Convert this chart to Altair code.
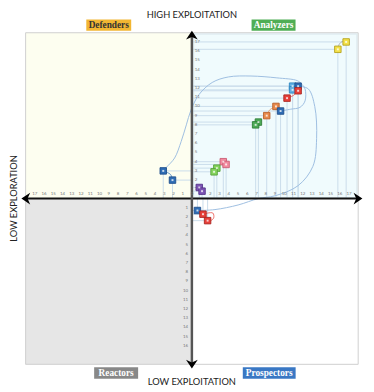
import altair as alt
import pandas as pd

# ---------------- data ----------------
# points: x = exploration, y = exploitation
pt_x = [16.7, 15.8, 10.9, 10.9, 11.5, 11.5, 10.3, 9.1, 9.6, 8.1, 7.2, 6.9,
        -3.1, -2.1, 3.4, 3.7, 2.7, 2.4, 0.8, 1.1, 0.6, 1.2, 1.7]
pt_y = [17.0, 16.2, 12.2, 11.8, 12.2, 11.7, 10.9, 10.0, 9.5, 9.0, 8.3, 8.0,
        3.0, 2.0, 4.0, 3.7, 3.3, 2.9, 1.2, 0.8, -1.3, -1.7, -2.4]
pt_group = ["yellow", "yellow", "lightblue", "lightblue", "blue", "red", "red",
            "orange", "blue", "orange", "green", "green",
            "blue", "blue", "pink", "pink", "lime", "lime", "purple", "purple",
            "blue", "red", "red"]

groups = ["yellow", "lightblue", "blue", "red", "orange", "green", "pink", "lime", "purple", "gray"]
fill_colors = ["#F3E14A", "#62B0E4", "#2F6DB5", "#E8403A", "#E8894B", "#4DAA57", "#F28BA0", "#86D45E", "#7D55B5", "#999999"]
stroke_colors = ["#B5A21C", "#2E86C1", "#1F4E8C", "#A92420", "#B8602A", "#2E7D36", "#C95C73", "#55A03A", "#54348A", "#777777"]

# large trajectory curves
curveA_x = [-3.1, -2.75, -1.87, -1.16, -0.6, -0.1, 0.78, 2.2, 3.95, 6.4, 9.2, 11.4, 11.9, 12.25, 12.25, 11.7, 10.7, 9.6]
curveA_y = [3.0, 3.4, 4.4, 6.2, 8.0, 9.6, 11.3, 12.6, 13.2, 13.3, 13.1, 12.8, 12.4, 11.9, 10.6, 9.9, 9.7, 9.5]
curveB_x = [11.5, 12.6, 13.3, 13.5, 13.1, 11.5, 9.0, 7.2, 5.0, 2.5, 0.6]
curveB_y = [12.2, 11.9, 10.0, 6.5, 3.5, 1.4, 0.3, 0.0, -0.7, -1.2, -1.3]

# short connectors between paired points
conn_group = ["gray"] * 4 + ["red"] * 5 + ["orange"] * 3 + ["red"] * 3 + ["blue"] * 3
conn_id = ["c1"] * 4 + ["c2"] * 5 + ["c3"] * 3 + ["c4"] * 3 + ["c5"] * 3
conn_x = [15.8, 15.95, 16.3, 16.7,
          1.2, 2.26, 2.36, 2.0, 1.7,
          8.1, 8.4, 9.1,
          10.3, 11.0, 11.5,
          -3.1, -2.3, -2.1]
conn_y = [16.2, 16.75, 17.05, 17.0,
          -1.7, -1.57, -2.1, -2.42, -2.4,
          9.0, 9.6, 10.0,
          10.9, 11.2, 11.7,
          3.0, 2.6, 2.0]

# quadrants
quad_name = ["Defenders", "Analyzers", "Reactors", "Prospectors"]
quad_x = [-18, 0, -18, 0]
quad_x2 = [0, 18, 0, 18]
quad_y = [0, 0, -18, -18]
quad_y2 = [18, 18, 0, 0]
quad_fill = ["#FDFEF0", "#F0FBFD", "#E6E6E6", "#FFFFFF"]

# quadrant labels
lab_text = ["Defenders", "Analyzers", "Reactors", "Prospectors"]
lab_x = [-9.0, 8.84, -8.2, 8.37]
lab_y = [18.83, 18.83, -18.95, -18.95]
lab_half_w = [2.43, 2.38, 2.38, 2.86]
lab_bg = ["#F2B632", "#4FAE55", "#888888", "#3A78C4"]
lab_fg = ["#333333", "#FFFFFF", "#FFFFFF", "#FFFFFF"]

# tick labels
xt_left = [-17, -16, -15, -14, -13, -12, -11, -10, -9, -8, -7, -6, -5, -4, -3, -2, -1, 0]
xt_left_lab = ["17", "16", "15", "14", "13", "12", "11", "10", "9", "8", "7", "6", "5", "4", "3", "2", "1", "0"]
xt_right = [1, 2, 3, 4, 5, 6, 7, 8, 9, 10, 11, 12, 13, 14, 15, 16, 17]
xt_right_lab = ["1", "2", "3", "4", "5", "6", "7", "8", "9", "10", "11", "12", "13", "14", "15", "16", "17"]
yt_top = [1, 2, 3, 4, 5, 6, 7, 8, 9, 10, 11, 12, 13, 14, 15, 16, 17]
yt_top_lab = ["1", "2", "3", "4", "5", "6", "7", "8", "9", "10", "11", "12", "13", "14", "15", "16", "17"]
yt_bot = [-1, -2, -3, -4, -5, -6, -7, -8, -9, -10, -11, -12, -13, -14, -15, -16]
yt_bot_lab = ["1", "2", "3", "4", "5", "6", "7", "8", "9", "10", "11", "12", "13", "14", "15", "16"]

# ---------------- build ----------------
XS = alt.Scale(domain=[-18, 18], nice=False, zero=False)
YS = alt.Scale(domain=[-18, 18], nice=False, zero=False)


def X(f="x"):
    return alt.X(f"{f}:Q", scale=XS, axis=None)


def Y(f="y"):
    return alt.Y(f"{f}:Q", scale=YS, axis=None)


fill_scale = alt.Scale(domain=groups, range=fill_colors)
stroke_scale = alt.Scale(domain=groups, range=stroke_colors)

pts = pd.DataFrame({"x": pt_x, "y": pt_y, "g": pt_group, "zero": 0.0})
quads = pd.DataFrame({"x": quad_x, "x2": quad_x2, "y": quad_y, "y2": quad_y2, "name": quad_name})
labs = pd.DataFrame({"t": lab_text, "x": lab_x, "y": lab_y,
                     "xa": [a - b for a, b in zip(lab_x, lab_half_w)],
                     "xb": [a + b for a, b in zip(lab_x, lab_half_w)],
                     "ya": [v - 0.62 for v in lab_y], "yb": [v + 0.62 for v in lab_y]})
curves = pd.DataFrame({
    "x": curveA_x + curveB_x,
    "y": curveA_y + curveB_y,
    "c": ["A"] * len(curveA_x) + ["B"] * len(curveB_x),
    "o": list(range(len(curveA_x))) + list(range(len(curveB_x))),
})
conns = pd.DataFrame({"x": conn_x, "y": conn_y, "g": conn_group, "c": conn_id,
                      "o": list(range(len(conn_x)))})

bg = alt.Chart(quads).mark_rect(strokeWidth=0).encode(
    x=X(), x2="x2:Q", y=Y(), y2="y2:Q",
    fill=alt.Fill("name:N", scale=alt.Scale(domain=quad_name, range=quad_fill), legend=None),
)
frame = alt.Chart(pd.DataFrame({"x": [-18], "x2": [18], "y": [-18], "y2": [18]})).mark_rect(
    fill=None, stroke="#CFCFCF", strokeWidth=1
).encode(x=X(), x2="x2:Q", y=Y(), y2="y2:Q")
ana_frame = alt.Chart(pd.DataFrame({"x": [0.2], "x2": [17.85], "y": [0.1], "y2": [17.85]})).mark_rect(
    fill=None, stroke="#DCE8EE", strokeWidth=1
).encode(x=X(), x2="x2:Q", y=Y(), y2="y2:Q")

lead_h = alt.Chart(pts).mark_rule(color="#CADCEB", strokeWidth=1).encode(x=X(), x2="zero:Q", y=Y())
lead_v = alt.Chart(pts).mark_rule(color="#CADCEB", strokeWidth=1).encode(x=X(), y=Y(), y2="zero:Q")

big = alt.Chart(curves).mark_line(interpolate="catmull-rom", color="#9DBDE0", strokeWidth=1).encode(
    x=X(), y=Y(), detail="c:N", order="o:Q")
small = alt.Chart(conns).mark_line(interpolate="catmull-rom", strokeWidth=1, opacity=0.75).encode(
    x=X(), y=Y(), detail="c:N", order="o:Q",
    color=alt.Color("g:N", scale=fill_scale, legend=None))

hline = alt.Chart(pd.DataFrame({"x": [-18], "x2": [18], "y": [0]})).mark_rule(
    color="#111111", strokeWidth=2).encode(x=X(), x2="x2:Q", y=Y())
vline = alt.Chart(pd.DataFrame({"x": [0], "y": [-18], "y2": [18]})).mark_rule(
    color="#555555", strokeWidth=2.5).encode(x=X(), y=Y(), y2="y2:Q")

tick_font = dict(fontSize=4.5, color="#777777", font="Lato")
xl = alt.Chart(pd.DataFrame({"x": xt_left, "t": xt_left_lab, "y": 0})).mark_text(dy=-4.5, **tick_font).encode(
    x=X(), y=Y(), text="t:N")
xr = alt.Chart(pd.DataFrame({"x": xt_right, "t": xt_right_lab, "y": 0})).mark_text(dy=-4.5, **tick_font).encode(
    x=X(), y=Y(), text="t:N")
yl = alt.Chart(pd.DataFrame({"y": yt_top, "t": yt_top_lab, "x": 0})).mark_text(dx=3, align="left", **tick_font).encode(
    x=X(), y=Y(), text="t:N")
yb = alt.Chart(pd.DataFrame({"y": yt_bot, "t": yt_bot_lab, "x": 0})).mark_text(dx=-4, align="right", **tick_font).encode(
    x=X(), y=Y(), text="t:N")

points = alt.Chart(pts).mark_square(size=44, opacity=1, filled=True, strokeWidth=0.9).encode(
    x=X(), y=Y(),
    fill=alt.Fill("g:N", scale=fill_scale, legend=None),
    stroke=alt.Stroke("g:N", scale=stroke_scale, legend=None),
)
centers = alt.Chart(pts).mark_square(size=4, color="white", opacity=0.75).encode(x=X(), y=Y())

arrow = "M0,-0.8 L1,0.7 L0,0.25 L-1,0.7 Z"
arr_df = pd.DataFrame({"x": [0, 17.95, 0, -17.95], "y": [17.7, 0, -17.95, 0]})
arrows = []
for i, ang in enumerate([0, 90, 180, 270]):
    arrows.append(alt.Chart(arr_df.iloc[[i]]).mark_point(
        shape=arrow, filled=True, color="black", size=144, angle=ang, opacity=1
    ).encode(x=X(), y=Y()))

lab_box = alt.Chart(labs).mark_rect().encode(
    x=X("xa"), x2="xb:Q", y=Y("ya"), y2="yb:Q",
    fill=alt.Fill("t:N", scale=alt.Scale(domain=lab_text, range=lab_bg), legend=None))
lab_txt = alt.Chart(labs).mark_text(font="Liberation Serif", fontWeight="bold", fontSize=9.5).encode(
    x=X(), y=Y(), text="t:N",
    color=alt.Color("t:N", scale=alt.Scale(domain=lab_text, range=lab_fg), legend=None))

title_font = dict(font="Lato", fontSize=9.5, color="#222222")
t_top = alt.Chart(pd.DataFrame({"x": [0], "y": [19.9], "t": ["HIGH EXPLOITATION"]})).mark_text(**title_font).encode(
    x=X(), y=Y(), text="t:N")
t_bot = alt.Chart(pd.DataFrame({"x": [0], "y": [-19.9], "t": ["LOW EXPLOITATION"]})).mark_text(**title_font).encode(
    x=X(), y=Y(), text="t:N")
t_left = alt.Chart(pd.DataFrame({"x": [-19.3], "y": [0], "t": ["LOW EXPLORATION"]})).mark_text(angle=270, **title_font).encode(
    x=X(), y=Y(), text="t:N")

chart = alt.layer(
    bg, ana_frame, frame, lead_h, lead_v, big, small, hline, vline,
    xl, xr, yl, yb, points, centers, *arrows, lab_box, lab_txt, t_top, t_bot, t_left
).resolve_scale(
    fill="independent", stroke="independent", color="independent"
).properties(
    width=340, height=339,
    autosize=alt.AutoSizeParams(type="none"),
    padding={"left": 18, "top": 21, "right": 8, "bottom": 24},
).configure_view(strokeWidth=0)

chart.save("out.html", embed_options={"renderer": "svg", "actions": False})
